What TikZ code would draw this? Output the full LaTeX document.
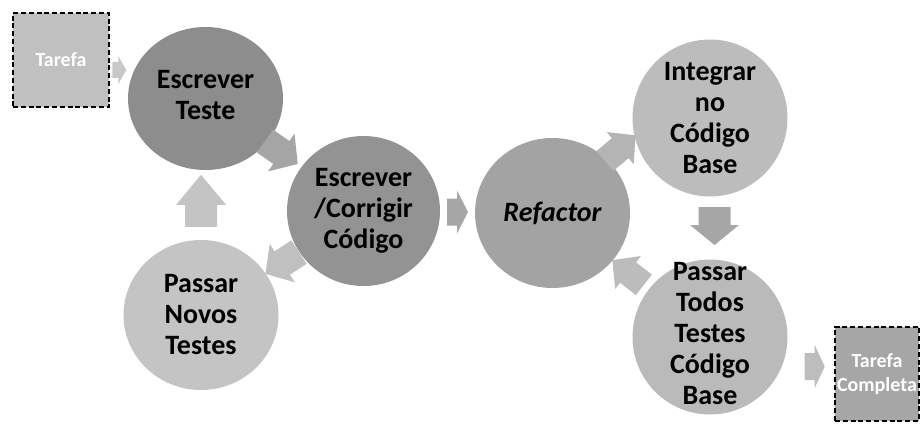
\documentclass[tikz,border=0pt]{standalone}
\usepackage{fontspec}
\setmainfont{Carlito}
\usetikzlibrary{shapes.geometric,calc}

\definecolor{stageA}{HTML}{8D8D8D}
\definecolor{stageB}{HTML}{939393}
\definecolor{stageC}{HTML}{A3A3A3}
\definecolor{stageD}{HTML}{BCBCBC}
\definecolor{stageE}{HTML}{BABABA}
\definecolor{stageF}{HTML}{C4C4C4}
\definecolor{taskfill}{HTML}{C0C0C0}
\definecolor{donefill}{HTML}{A6A6A6}
\definecolor{flowA}{HTML}{C8C8C8}
\definecolor{flowB}{HTML}{A5A5A5}
\definecolor{flowC}{HTML}{C0C0C0}
\definecolor{flowD}{HTML}{C4C4C4}
\definecolor{flowE}{HTML}{A6A6A6}
\definecolor{flowF}{HTML}{B4B4B4}
\definecolor{flowG}{HTML}{BCBCBC}
\definecolor{flowH}{HTML}{BDBDBD}

% block arrow: #1 centre, #2 angle, #3 length, #4 shaft width,
% #5 head width, #6 head length, #7 colour
\newcommand\flowarrow[7]{%
  \fill[#7, shift={#1}, rotate=#2]
    (-#3/2,-#4/2) -- (#3/2-#6,-#4/2) -- (#3/2-#6,-#5/2) -- (#3/2,0)
    -- (#3/2-#6,#5/2) -- (#3/2-#6,#4/2) -- (-#3/2,#4/2) -- cycle;}

\begin{document}
\begin{tikzpicture}[x=1pt,y=-1pt,
  stage/.style n args={3}{ellipse, fill=#3, draw=none, inner sep=0pt,
    minimum width=#1pt, minimum height=#2pt},
  stagetext/.style={align=center, text=black, inner sep=0pt,
    font=\bfseries\fontsize{28}{31}\selectfont},
  taskbox/.style={draw=black, line width=2.6pt, dash pattern=on 5pt off 2.8pt,
    inner sep=0pt, text=white, align=center,
    font=\bfseries\fontsize{20}{24}\selectfont},
]
\useasboundingbox (0,0) rectangle (923,425);

% task boxes
\node[taskbox, fill=taskfill, minimum width=96pt, minimum height=94pt] (T) at (61,60) {Tarefa};
\node[taskbox, fill=donefill, minimum width=84pt, minimum height=94pt] (TC) at (877,374) {Tarefa\\Completa};

% cycle stages
\node[stage={155}{143}{stageA}] (ET)  at (205.5,98.5) {};
\node[stage={153}{150}{stageB}] (EC)  at (363.5,211) {};
\node[stage={155}{150}{stageC}] (RF)  at (552.5,213) {};
\node[stage={155}{157}{stageD}] (IN)  at (710,118) {};
\node[stage={155}{155}{stageE}] (PT)  at (710,337) {};
\node[stage={155}{150}{stageF}] (PNT) at (201,315) {};

\node[stagetext] at ($(ET)+(0,-3)$) {Escrever\\Teste};
\node[stagetext] at (EC) {Escrever\\/Corrigir\\Código};
\node[stagetext] at (RF) {\itshape Refactor};
\node[stagetext] at (IN) {Integrar\\no\\Código\\Base};
\node[stagetext] at ($(PT)+(0,-3)$) {Passar\\Todos\\Testes\\Código\\Base};
\node[stagetext] at (PNT) {Passar\\Novos\\Testes};

% block arrows between the stages
\flowarrow{($(T.east)+(9,10)$)}{0}{14}{16}{28}{8}{flowA}
\flowarrow{($(ET)!0.48!(EC)$)}{-35}{40}{28}{46}{20}{flowB}
\flowarrow{($(EC)!0.5!(PNT)$)}{-147}{40}{28}{46}{20}{flowC}
\flowarrow{($(PNT.north)+(0,-39)$)}{90}{52}{32}{50}{30}{flowD}
\flowarrow{($(EC.east)!0.5!(RF.west)$)}{0}{21}{27}{43}{11}{flowE}
\flowarrow{($(RF)!0.43!(IN)+(0,-24)$)}{40}{40}{26}{42}{20}{flowF}
\flowarrow{($(IN.south)!0.5!(PT.north)+(4.5,-2)$)}{-90}{38}{32}{49}{20}{flowE}
\flowarrow{($(PT)!0.52!(RF)$)}{142}{40}{26}{42}{20}{flowG}
\flowarrow{($(TC.west)+(-19,-7.5)$)}{0}{20}{27}{43}{10}{flowH}
\end{tikzpicture}
\end{document}
